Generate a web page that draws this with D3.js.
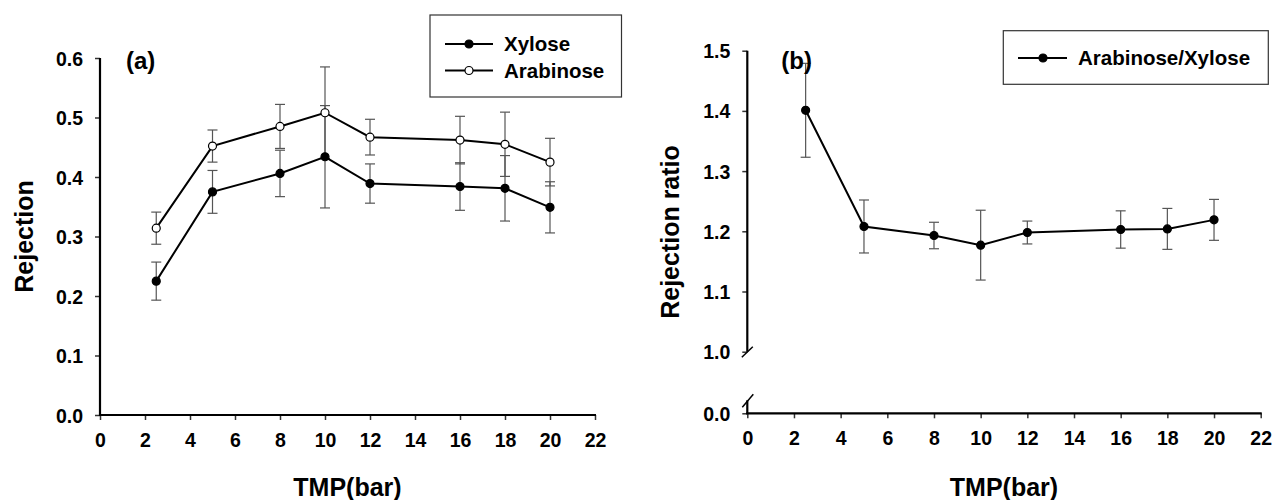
<!DOCTYPE html>
<html>
<head>
<meta charset="utf-8">
<script src="https://cdn.jsdelivr.net/npm/d3@7"></script>
<style>
  html, body { margin: 0; padding: 0; background: #fff; }
  svg { display: block; font-family: "Liberation Sans", Arial, sans-serif; font-weight: bold; }
</style>
</head>
<body>
<svg id="chart" width="1276" height="500"></svg>
<script>
// ---- data ----
const tmp = [2.5, 5, 8, 10, 12, 16, 18, 20];
const xylose = [0.225, 0.375, 0.406, 0.434, 0.389, 0.384, 0.381, 0.349];
const xyloseErr = [0.032, 0.036, 0.039, 0.086, 0.033, 0.040, 0.055, 0.043];
const arabinose = [0.314, 0.452, 0.485, 0.508, 0.467, 0.462, 0.455, 0.425];
const arabinoseErr = [0.027, 0.027, 0.037, 0.077, 0.030, 0.040, 0.054, 0.040];
const ratio = [1.401, 1.208, 1.193, 1.177, 1.198, 1.203, 1.204, 1.219];
const ratioErr = [0.078, 0.044, 0.022, 0.058, 0.019, 0.031, 0.034, 0.034];
const xTicks = [0, 2, 4, 6, 8, 10, 12, 14, 16, 18, 20, 22];
const yTicksA = [0.0, 0.1, 0.2, 0.3, 0.4, 0.5, 0.6];
const yTicksB = [0.0, 1.0, 1.1, 1.2, 1.3, 1.4, 1.5];
const legendA = ["Xylose", "Arabinose"];
const legendB = ["Arabinose/Xylose"];

const svg = d3.select("#chart");

const xA = d3.scaleLinear().domain([0, 22]).range([100, 595]);
const yA = d3.scaleLinear().domain([0, 0.6]).range([415, 58]);
const xB = d3.scaleLinear().domain([0, 22]).range([747.3, 1260.7]);
const yB = d3.scaleLinear().domain([0, 1.0, 1.5]).range([413.3, 351.7, 50.7]);

const tickFont = 19.5, titleFont = 25, legFont = 20.5;
const FF = "'Liberation Sans', Arial, sans-serif";

function xAxis(g, x, y0) {
  const ax = d3.axisBottom(x).tickValues(xTicks).tickFormat(d3.format("d")).tickSize(5).tickPadding(13);
  const gg = g.append("g").attr("transform", `translate(0,${y0})`).call(ax);
  gg.attr("font-size", tickFont).attr("font-family", FF).attr("font-weight", "bold");
  gg.select(".domain").remove();
  gg.selectAll(".tick line").attr("stroke", "#333").attr("stroke-width", 1.5);
  gg.selectAll(".tick text").attr("fill", "#000");
  g.append("line").attr("x1", x.range()[0] - 1).attr("x2", x.range()[1] + 1)
    .attr("y1", y0).attr("y2", y0).attr("stroke", "#000").attr("stroke-width", 2.2);
}
function yAxis(g, y, x0, ticks, fmt) {
  const ax = d3.axisLeft(y).tickValues(ticks).tickFormat(fmt).tickSize(5).tickPadding(12);
  const gg = g.append("g").attr("transform", `translate(${x0},0)`).call(ax);
  gg.attr("font-size", tickFont).attr("font-family", FF).attr("font-weight", "bold");
  gg.select(".domain").remove();
  gg.selectAll(".tick line").attr("stroke", "#333").attr("stroke-width", 1.5);
  gg.selectAll(".tick text").attr("fill", "#000").attr("dy", "0.36em");
}

function errorBars(g, x, y, xs, vs, es) {
  const eb = g.append("g").attr("stroke", "#555").attr("stroke-width", 1.2);
  xs.forEach((t, i) => {
    const top = y(vs[i] + es[i]), bot = y(vs[i] - es[i]), cx = x(t);
    eb.append("line").attr("x1", cx).attr("x2", cx).attr("y1", top).attr("y2", bot);
    eb.append("line").attr("x1", cx - 5).attr("x2", cx + 5).attr("y1", top).attr("y2", top);
    eb.append("line").attr("x1", cx - 5).attr("x2", cx + 5).attr("y1", bot).attr("y2", bot);
  });
}
function series(g, x, y, xs, vs, open) {
  const line = d3.line().x((d, i) => x(xs[i])).y(d => y(d));
  g.append("path").datum(vs).attr("d", line).attr("fill", "none").attr("stroke", "#000").attr("stroke-width", 2);
  g.selectAll(null).data(vs).enter().append("circle")
    .attr("cx", (d, i) => x(xs[i])).attr("cy", d => y(d)).attr("r", 4)
    .attr("fill", open ? "#fff" : "#000").attr("stroke", "#000").attr("stroke-width", 1.2);
}

// ---------- Panel (a) ----------
const gA = svg.append("g");
yAxis(gA, yA, xA(0), yTicksA, d3.format(".1f"));
gA.append("line").attr("x1", xA(0)).attr("x2", xA(0)).attr("y1", yA(0.6)).attr("y2", yA(0) + 1)
  .attr("stroke", "#000").attr("stroke-width", 2.2);
xAxis(gA, xA, yA(0));
errorBars(gA, xA, yA, tmp, xylose, xyloseErr);
errorBars(gA, xA, yA, tmp, arabinose, arabinoseErr);
series(gA, xA, yA, tmp, xylose, false);
series(gA, xA, yA, tmp, arabinose, true);
gA.append("text").attr("x", xA(0) + 26).attr("y", 69).attr("font-size", 24).text("(a)");
gA.append("text").attr("x", (xA(0) + xA(22)) / 2).attr("y", 496).attr("text-anchor", "middle")
  .attr("font-size", titleFont).text("TMP(bar)");
gA.append("text").attr("transform", `translate(33,${(yA(0) + yA(0.6)) / 2}) rotate(-90)`)
  .attr("text-anchor", "middle").attr("font-size", titleFont).text("Rejection");

// legend (a)
const lgA = gA.append("g");
lgA.append("rect").attr("x", 430).attr("y", 15).attr("width", 191.5).attr("height", 82)
  .attr("fill", "#fff").attr("stroke", "#333").attr("stroke-width", 1.2);
legendA.forEach((name, i) => {
  const cy = 44 + i * 26.5;
  lgA.append("line").attr("x1", 445).attr("x2", 493).attr("y1", cy).attr("y2", cy).attr("stroke", "#000").attr("stroke-width", 2);
  lgA.append("circle").attr("cx", 469).attr("cy", cy).attr("r", 4).attr("fill", i === 0 ? "#000" : "#fff").attr("stroke", "#000").attr("stroke-width", 1.2);
  lgA.append("text").attr("x", 504).attr("y", cy + 7).attr("font-size", legFont).text(name);
});

// ---------- Panel (b) ----------
const gB = svg.append("g");
yAxis(gB, yB, xB(0), yTicksB, d3.format(".1f"));
const ax0 = xB(0);
// upper axis segment with break slash
gB.append("line").attr("x1", ax0).attr("x2", ax0).attr("y1", yB(1.5)).attr("y2", yB(1.0))
  .attr("stroke", "#000").attr("stroke-width", 2.2);
gB.append("line").attr("x1", ax0 - 5.5).attr("x2", ax0 + 5.5).attr("y1", yB(1.0) + 5.5).attr("y2", yB(1.0) - 5)
  .attr("stroke", "#000").attr("stroke-width", 1.5);
// lower axis segment with break slash
gB.append("line").attr("x1", ax0).attr("x2", ax0).attr("y1", yB(0) - 13).attr("y2", yB(0) + 1)
  .attr("stroke", "#000").attr("stroke-width", 2.2);
gB.append("line").attr("x1", ax0 - 5).attr("x2", ax0 + 6).attr("y1", yB(0) - 6).attr("y2", yB(0) - 19)
  .attr("stroke", "#000").attr("stroke-width", 1.5);
xAxis(gB, xB, yB(0));
errorBars(gB, xB, yB, tmp, ratio, ratioErr);
series(gB, xB, yB, tmp, ratio, false);
gB.append("text").attr("x", xB(0) + 34).attr("y", 69).attr("font-size", 24).text("(b)");
gB.append("text").attr("x", (xB(0) + xB(22)) / 2).attr("y", 496).attr("text-anchor", "middle")
  .attr("font-size", titleFont).text("TMP(bar)");
gB.append("text").attr("transform", `translate(679,${(yB(0) + yB(1.5)) / 2}) rotate(-90)`)
  .attr("text-anchor", "middle").attr("font-size", titleFont).text("Rejection ratio");

// legend (b)
const lgB = gB.append("g");
lgB.append("rect").attr("x", 1003.3).attr("y", 30.7).attr("width", 265).attr("height", 53.6)
  .attr("fill", "#fff").attr("stroke", "#333").attr("stroke-width", 1.2);
legendB.forEach((name, i) => {
  const cy = 58;
  lgB.append("line").attr("x1", 1018).attr("x2", 1067).attr("y1", cy).attr("y2", cy).attr("stroke", "#000").attr("stroke-width", 2);
  lgB.append("circle").attr("cx", 1043).attr("cy", cy).attr("r", 4).attr("fill", "#000").attr("stroke", "#000").attr("stroke-width", 1.2);
  lgB.append("text").attr("x", 1078).attr("y", cy + 7).attr("font-size", legFont).text(name);
});
</script>
</body>
</html>
